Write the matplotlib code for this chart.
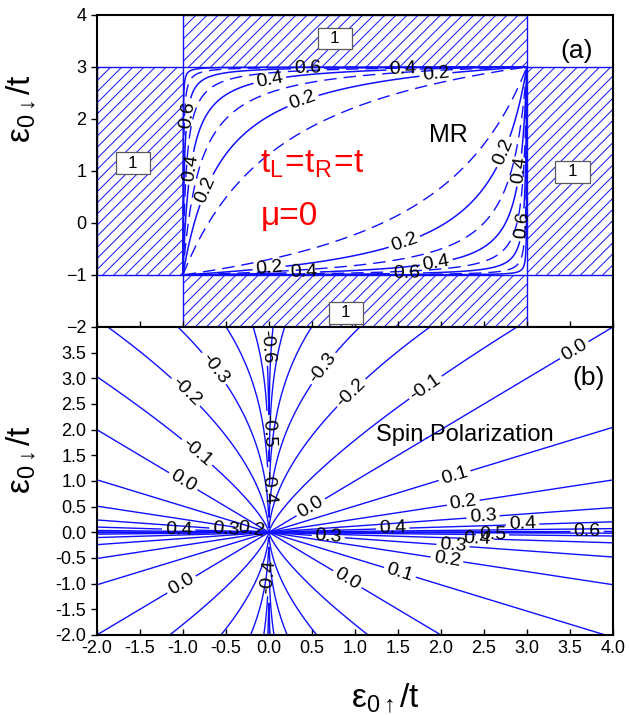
import numpy as np
import matplotlib
matplotlib.use("Agg")
import matplotlib.pyplot as plt
from matplotlib.patches import Rectangle

plt.rcParams['font.family'] = ['Liberation Sans', 'DejaVu Sans']
plt.rcParams['mathtext.fontset'] = 'custom'
plt.rcParams['mathtext.rm'] = 'Liberation Sans'
plt.rcParams['mathtext.it'] = 'Liberation Sans:italic'
plt.rcParams['hatch.linewidth'] = 0.7
plt.rcParams['contour.negative_linestyle'] = 'solid'

# axes / ticks
x_ticks = np.arange(-2.0, 4.01, 0.5)
top_yticks = [-2, -1, 0, 1, 2, 3, 4]
bot_yticks = np.arange(-2.0, 3.51, 0.5)

# band edges of the leads (MR = 1 outside for one spin)
band_lo = -1.0
band_hi = 3.0

# contour levels
mr_dashed = [0.1, 0.3, 0.5, 0.7]
mr_solid = [0.2, 0.4, 0.6, 0.8]
mr_labeled = [0.2, 0.4, 0.6]
sp_levels = [-0.6, -0.5, -0.4, -0.3, -0.2, -0.1, 0.0, 0.1, 0.2, 0.3, 0.4, 0.5, 0.6]

blue = '#1010ff'


def mr_field(e_up, e_dn):
    u = (e_up - band_lo) / (band_hi - band_lo)
    v = (e_dn - band_lo) / (band_hi - band_lo)
    lc = np.log(u / (1 - u)) - np.log(v / (1 - v))
    return 1 - np.exp(-(np.abs(lc) / 5.8) ** 1.6)


def sp_field(e_up, e_dn):
    # level lines ~ power laws |x| = C |y|^n ; fan point of the down side at ln(11)
    X = np.log(np.abs(e_up))
    Y = np.log(np.abs(e_dn))
    X0 = 2.4
    upper = -0.358 * np.log((X0 - X) / (X0 - Y))
    lower = 0.75 * np.tanh(0.2 * (X - Y))
    return np.where(Y > X, upper, lower)


fig = plt.figure(figsize=(6.29, 7.15), dpi=100)
ax1 = fig.add_axes([0.154, 0.5427, 0.8204, 0.4364])
ax2 = fig.add_axes([0.154, 0.1119, 0.8204, 0.4308])

for ax in (ax1, ax2):
    ax.set_xlim(-2, 4)
    ax.set_ylim(-2, 4)
    for sp in ax.spines.values():
        sp.set_linewidth(1.5)
    ax.set_xticks(x_ticks)
    ax.tick_params(axis='x', direction='in', length=4, width=1, labelsize=13)
    ax.tick_params(axis='y', direction='out', length=4, width=1, labelsize=13)

# ---------- panel (a) ----------
g = np.linspace(band_lo + 1e-4, band_hi - 1e-4, 600)
GX, GY = np.meshgrid(g, g)
MR = mr_field(GX, GY)

ax1.contour(GX, GY, MR, levels=mr_dashed, colors=blue, linewidths=1.0,
            linestyles=[(0, (9, 5))])
cs1 = ax1.contour(GX, GY, MR, levels=mr_solid, colors=blue, linewidths=1.1)
mr_label_pos = [(-0.92, 2.08), (0.45, 2.96), (0.01, 2.75), (0.40, 2.33),
                (-0.94, 1.06), (-0.77, 0.67), (1.56, 2.95), (1.95, 2.75),
                (0.0, -0.82), (0.4, -0.93), (1.6, -0.48), (1.95, -0.79),
                (1.6, -0.98), (2.72, 1.37), (2.9, 1.02), (2.96, -0.04)]
ax1.clabel(cs1, levels=mr_labeled, fmt='%.1f', fontsize=14, colors='k',
           manual=mr_label_pos, inline=True, inline_spacing=3)

ymin, ymax = ax1.get_ylim()
xmin, xmax = ax1.get_xlim()
strips = [(xmin, band_lo, band_lo, band_hi), (band_hi, xmax, band_lo, band_hi),
          (band_lo, band_hi, band_hi, ymax), (band_lo, band_hi, ymin, band_lo)]
for x0, x1, y0, y1 in strips:
    ax1.add_patch(Rectangle((x0, y0), x1 - x0, y1 - y0, facecolor='none',
                            edgecolor=blue, hatch='///', linewidth=1.0))

one_pos = [(-1.58, 1.15), (3.53, 0.98), (0.77, 3.55), (0.9, -1.73)]
for px, py in one_pos:
    ax1.text(px, py, '  1  ', ha='center', va='center', fontsize=12,
             bbox=dict(boxstyle='square,pad=0.2', fc='white', ec='0.35', lw=0.9))

ax1.text(-0.1, 1.12, r'$\mathregular{t_L\!=\!t_R\!=\!t}$', color='red',
         fontsize=24, ha='left', va='center')
ax1.text(-0.1, 0.12, 'μ=0', color='red', fontsize=24, ha='left', va='center')
ax1.text(2.09, 1.69, 'MR', fontsize=18, ha='center', va='center')
ax1.text(3.58, 3.3, '(a)', fontsize=19, ha='center', va='center')

ax1.set_yticks(top_yticks)
ax1.set_xticklabels([])
ax1.set_ylabel(r'$\mathregular{\varepsilon_{0\downarrow}/t}$', fontsize=24)
ax1.yaxis.set_label_coords(-0.115, 0.7)

# ---------- panel (b) ----------
gx = np.linspace(-2, 4, 801)
gy = np.linspace(-2, 4, 701)
SX, SY = np.meshgrid(gx, gy)
SP = sp_field(SX, SY)

cs2 = ax2.contour(SX, SY, SP, levels=sp_levels, colors=blue, linewidths=1.0,
                  linestyles='solid')
sp_label_pos = [(-0.66, 3.16), (-1.0, 2.67), (-0.88, 1.47), (-1.03, 0.9),
                (-1.05, 0.054), (-0.5, 0.06), (-0.2, 0.05), (-1.0, -1.06),
                (-0.03, 3.63), (-0.013, 1.98), (-0.005, 0.88), (-0.005, -0.86),
                (0.63, 3.2), (0.94, 2.75), (1.81, 2.85), (3.55, 3.55),
                (0.5, 0.45), (0.69, -0.083), (0.9, -0.95), (2.16, 1.1),
                (2.26, 0.575), (2.49, 0.3), (1.44, 0.074), (2.95, 0.15),
                (2.6, -0.05), (2.14, -0.26), (2.42, -0.124), (2.07, -0.53),
                (1.52, -0.8), (3.7, 0.015)]
ax2.clabel(cs2, fmt='%.1f', fontsize=14, colors='k', manual=sp_label_pos,
           inline=True, inline_spacing=3)

ax2.text(2.28, 1.89, 'Spin Polarization', fontsize=17, ha='center', va='center')
ax2.text(3.72, 3.0, '(b)', fontsize=19, ha='center', va='center')

ax2.set_yticks(bot_yticks)
ax2.set_yticklabels(['%.1f' % v for v in bot_yticks])
ax2.set_xticklabels(['%.1f' % v for v in x_ticks])
ax2.set_ylabel(r'$\mathregular{\varepsilon_{0\downarrow}/t}$', fontsize=24)
ax2.yaxis.set_label_coords(-0.115, 0.57)
ax2.set_xlabel(r'$\mathregular{\varepsilon_{0\uparrow}/t}$', fontsize=24)
ax2.xaxis.set_label_coords(0.56, -0.15)

fig.savefig('out.png', dpi=100)
